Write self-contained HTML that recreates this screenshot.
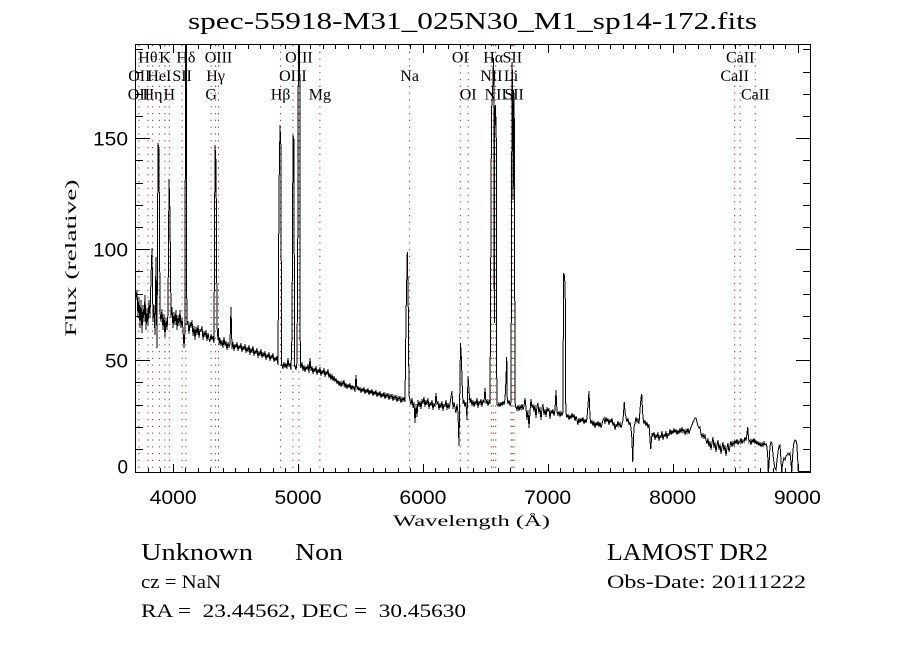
<!DOCTYPE html>
<html>
<head>
<meta charset="utf-8">
<style>
html,body{margin:0;padding:0;background:#fff;}
svg{display:block;}
text{fill:#000;}
.lab{font-family:"Liberation Serif",serif;font-size:16px;text-anchor:middle;}
.tk{font-family:"Liberation Sans",sans-serif;font-size:19px;}
.sf{font-family:"Liberation Serif",serif;}
</style>
</head>
<body>
<svg width="900" height="650" viewBox="0 0 900 650" xmlns="http://www.w3.org/2000/svg">
<rect x="0" y="0" width="900" height="650" fill="#fff"/>
<defs>
<clipPath id="pc"><rect x="136" y="44.5" width="674" height="428"/></clipPath>
</defs>

<!-- Title -->
<text class="sf" x="188" y="29" font-size="24" textLength="569" lengthAdjust="spacingAndGlyphs">spec-55918-M31_025N30_M1_sp14-172.fits</text>

<!-- dotted line markers -->
<g stroke="#9a2020" stroke-width="1" stroke-dasharray="1.2 5.6" fill="none">
<line x1="138.9" y1="45" x2="138.9" y2="472"/>
<line x1="147.9" y1="45" x2="147.9" y2="472"/>
<line x1="152.6" y1="45" x2="152.6" y2="472"/>
<line x1="159.3" y1="45" x2="159.3" y2="472"/>
<line x1="164.9" y1="45" x2="164.9" y2="472"/>
<line x1="169.3" y1="45" x2="169.3" y2="472"/>
<line x1="182.1" y1="45" x2="182.1" y2="472"/>
<line x1="185.9" y1="45" x2="185.9" y2="472"/>
<line x1="211.1" y1="45" x2="211.1" y2="472"/>
<line x1="215.6" y1="45" x2="215.6" y2="472"/>
<line x1="218.5" y1="45" x2="218.5" y2="472"/>
<line x1="280.6" y1="45" x2="280.6" y2="472"/>
<line x1="292.9" y1="45" x2="292.9" y2="472"/>
<line x1="298.9" y1="45" x2="298.9" y2="472"/>
<line x1="319.9" y1="45" x2="319.9" y2="472"/>
<line x1="409.6" y1="45" x2="409.6" y2="472"/>
<line x1="460.3" y1="45" x2="460.3" y2="472"/>
<line x1="468.2" y1="45" x2="468.2" y2="472"/>
<line x1="491.3" y1="45" x2="491.3" y2="472"/>
<line x1="493.2" y1="45" x2="493.2" y2="472"/>
<line x1="495.7" y1="45" x2="495.7" y2="472"/>
<line x1="511.1" y1="45" x2="511.1" y2="472"/>
<line x1="512.3" y1="45" x2="512.3" y2="472"/>
<line x1="514.1" y1="45" x2="514.1" y2="472"/>
<line x1="734.7" y1="45" x2="734.7" y2="472"/>
<line x1="740.2" y1="45" x2="740.2" y2="472"/>
<line x1="755.2" y1="45" x2="755.2" y2="472"/>
</g>

<!-- line labels -->
<text class="lab" x="147.9" y="62.5">Hθ</text>
<text class="lab" x="164.9" y="62.5">K</text>
<text class="lab" x="185.9" y="62.5">Hδ</text>
<text class="lab" x="218.5" y="62.5">OIII</text>
<text class="lab" x="298.9" y="62.5">OIII</text>
<text class="lab" x="460.3" y="62.5">OI</text>
<text class="lab" x="493.2" y="62.5">Hα</text>
<text class="lab" x="512.3" y="62.5">SII</text>
<text class="lab" x="740.2" y="62.5">CaII</text>

<text class="lab" x="139.3" y="81">OII</text>
<text class="lab" x="159.3" y="81">HeI</text>
<text class="lab" x="182.1" y="81">SII</text>
<text class="lab" x="215.6" y="81">Hγ</text>
<text class="lab" x="292.9" y="81">OIII</text>
<text class="lab" x="409.6" y="81">Na</text>
<text class="lab" x="491.3" y="81">NII</text>
<text class="lab" x="511.1" y="81">Li</text>
<text class="lab" x="734.7" y="81">CaII</text>

<text class="lab" x="138.9" y="99.5">OII</text>
<text class="lab" x="152.6" y="99.5">Hη</text>
<text class="lab" x="169.3" y="99.5">H</text>
<text class="lab" x="211.1" y="99.5">G</text>
<text class="lab" x="280.6" y="99.5">Hβ</text>
<text class="lab" x="319.9" y="99.5">Mg</text>
<text class="lab" x="468.2" y="99.5">OI</text>
<text class="lab" x="495.7" y="99.5">NII</text>
<text class="lab" x="514.1" y="99.5">SII</text>
<text class="lab" x="755.2" y="99.5">CaII</text>

<!-- spectrum -->
<g clip-path="url(#pc)">
<polyline fill="none" stroke="#000" stroke-width="1" shape-rendering="crispEdges" points="
136,300 137,290 138,318 139,297 140,328 141,300 142,333 143,305 144,322 145,295 146,330 147,308 148,326 149,300 150,318 151,277 152,248 153,322 154,305 155,335 156,257 157,348 158,143 159,150 160,312
161,322 162,309 163,330 164,314 165,337 166,318 167,330 168,312 169,179 170,215 171,318 172,307 173,328 174,312 175,325 176,310 177,330 178,315 179,326 180,310 181,328 182,318 183,330 184,348 185,330 185.5,44 186.3,44 186.8,325
188,321 189,334 190,322 191,328 192,320 193,336 194,326 195,340 196,327 197,335 198,325 199,338 200,329 201,332 202,326 203,340 204,331 205,337 206,330 207,341 208,333 209,339 210,342 211,334 212,340 213,336 214,343 215,145 215.8,160 216.3,202 217,326 218,340 218.5,328 219,345
220,338 221,346 222,340 223,348 224,337 225,346 226,341 227,350 228,342 229,347 230,344 231,307 232,349 233,342 234,351 235,344 236,348 237,342 238,351 239,345 240,349 241,343 242,352 243,346 244,350 245,344 246,353 247,347 248,352 249,345 250,355 251,348 252,353 253,346 254,356 255,350 256,354 257,348 258,358 259,351 260,356 261,349 262,358 263,352 264,357 265,351 266,360 267,354 268,358 269,352 270,361 271,355 272,359 273,353 274,362 275,357 276,361 277,356 278,365
279,192 280,125 281,150 281.5,366
282,364 283,369 284,362 285,368 286,363 287,369 288,358 289,367 290,363 291,370 292,333 293,135 294,140 294.5,367 295,365 296,370 297,362 297.7,257 298.4,44 299.7,44 300.3,366
301,368 302,362 303,371 304,365 305,372 306,366 307,370 308,364 309,373 310,358 311,371 312,366 313,374 314,368 315,372 316,366 317,375 318,369 319,373 320,367 321,376 322,370 323,374 324,368 325,377 326,371 327,375 328,369 329,378 330,373 331,380 332,374 333,381 334,376 335,382
336,378 337,384 338,380 339,386 340,381 341,387 342,382 343,385 344,380 345,388 346,383 347,389 348,384 349,388 350,383 351,390 352,385 353,389 354,386 355,392 356,375 357,390 358,386 359,391 360,387 361,393 362,388 363,392 364,387 365,394 366,389 367,393 368,388 369,395 370,390 371,394 372,389 373,396 374,391 375,395 376,390 377,397 378,392 379,396 380,391 381,398 382,393 383,397 384,392 385,399 386,394 387,397 388,393 389,400 390,395 391,398 392,394 393,401 394,396 395,399 396,395 397,402 398,397 399,400 400,396 401,403 402,398 403,401 404,397 405,402 406,318 407.3,252 408.2,300 409,395
410,400 411,405 412,398 413,408 414,402 415,423 416,404 417,417 418,400 419,407 420,401 421,409 422,399 423,404 424,397 425,407 426,400 427,405 428,398 429,409 430,402 431,406 432,400 433,410 434,403 435,407 436,393 437,405 438,401 439,410 440,403 441,408 442,401 443,411 444,404 445,407 446,400 447,410 448,403 449,409 450,404 451,397 452,391 453,409 454,402 455,408 456,413 457,404 458,413 459,446 460.5,343 461.5,360 462,380 463,404 464,400 465,407 466,402 467,420 468,376 469,390 470,403
471,398 472,406 473,400 474,407 475,401 476,405 477,398 478,408 479,401 480,404 481,399 482,407 483,400 484,403 485,388 486,404 487,399 488,406 489,401 490,404
490.4,330 490.8,250 491.5,110 492.5,95 493.5,58 494,100 494.3,323 494.8,110 495.5,105 496.3,140 496.8,404
498,406 499,403 500,407 501,402 502,406 503,401 504,405 505,399 506,380 506.7,357 507.3,400 508,404 509,400 510,406 511,402
511.5,250 512,62 512.6,80 513.2,200 513.7,90 514.3,120 515,400 515.5,407
516,407 517,410 518,405 519,411 520,406 521,409 522,404 523,410 524,406 525,398 526,408 527,420 528,410 529,428 530,412 531,399 532,408 533,404 534,412 535,405 536,418 537,406 538,403 539,414 540,407 541,420 542,408 543,404 544,415 545,409 546,417 547,407 548,412 549,408 550,419 551,410 552,414 553,409 554,416 555,410 556,390 557,412 558,415 559,411 560,417 561,412 562,415 563,412
563.5,273 564.3,275 565.2,287 565.8,413
566,413 567,418 568,414 569,420 570,415 571,419 572,413 573,418 574,414 575,421 576,416 577,420 578,425 579,418 580,423 581,418 582,422 583,417 584,424 585,419 586,423 587,418 588,405 589,391 590,417 591,424 592,420 593,426 594,421 595,428 596,422 597,426 598,421 599,427 600,422 601,428 602,424 603,420 604,418 605,424 606,417 607,422 608,418 609,425 610,419 611,423 612,418 613,426 614,422 615,430 616,424 617,427 618,421 619,426 620,423 621,428 622,424 623,420 624.3,402 625,412 626,417 627,422 628,418 629,425 630,422 631,428 632,440 632.7,462 633.5,440 634,427 635,423 636,417 637,422 638,419 639,424 640,410 641,398 641.7,394 642.5,410 643,418 644,424 645,420 646,426 647,422 648,428 649,424 650,440 650.7,449 651.5,440 652,433
653,436 654,432 655,440 656,434 657,438 658,432 659,441 660,435 661,438 662,431 663,440 664,434 665,437 666,431 667,439 668,433 669,436 670,429 671,435 672,430 673,434 674,428 675,433 676,429 677,435 678,430 679,434 680,428 681,433 682,427 683,432 684,429 685,435 686,430 687,433 688,428 689,434 690,430 691,427 692,425 693,422 694,420 695,418 696,418 697,422 698,426 699,428 700,427 701,434 702,437 703,434 704,438 705,435 706,440
707,444 708,438 709,447 710,441 711,450 712,443 713,437 714,448 715,442 716,452 717,445 718,440 719,450 720,444 721,454 722,447 723,442 724,451 725,445 726,456 727,448 728,443 729,452 730,446 731,441 732,447 733,442 734,445 735,440 736,444 737,439 738,445 739,441 740,443 741,438 742,444 743,440 744,442 745,437 746,441 747,433 747.7,427 748.5,438 749,442 750,440 751,445 752,439 753,443 754,438 755,444 756,440 757,445 758,441 759,446 760,442 761,447 762,443 763,446 764,442 765,445 766,444 767,447
768,460 768.3,473 769,465 770,446 771,442 772,443 773,455 774,463 775,468 776,470 777,460 778,452 779,446 780,445 781,460 781.7,473 782,468 783,462 784,458 785,460 786,456 787,455 788,453 789,455 790,453 791,462 791.7,473 792,466 793,450 794,442 795,440 796,441 796.7,443 797.5,455 798.3,471.7 810,471.7"/>
</g>

<!-- axes box -->
<rect x="135.5" y="44.5" width="675" height="428" fill="none" stroke="#000" stroke-width="1"/>

<!-- x ticks -->
<g stroke="#000" stroke-width="1" fill="none">
<path d="
M148.5,472V468 M160.5,472V468 M173.5,472V464 M185.5,472V468 M198.5,472V468 M210.5,472V468 M223.5,472V468 M235.5,472V468 M248.5,472V468 M260.5,472V468 M273.5,472V468 M285.5,472V468
M298.5,472V464 M310.5,472V468 M323.5,472V468 M335.5,472V468 M348.5,472V468 M360.5,472V468 M373.5,472V468 M385.5,472V468 M398.5,472V468 M410.5,472V468
M423.5,472V464 M435.5,472V468 M448.5,472V468 M460.5,472V468 M473.5,472V468 M485.5,472V468 M498.5,472V468 M510.5,472V468 M523.5,472V468 M535.5,472V468
M548.5,472V464 M560.5,472V468 M573.5,472V468 M585.5,472V468 M598.5,472V468 M610.5,472V468 M623.5,472V468 M635.5,472V468 M648.5,472V468 M660.5,472V468
M673.5,472V464 M685.5,472V468 M698.5,472V468 M710.5,472V468 M723.5,472V468 M735.5,472V468 M748.5,472V468 M760.5,472V468 M773.5,472V468 M785.5,472V468
M798.5,472V464
M148.5,45V49 M160.5,45V49 M173.5,45V53 M185.5,45V49 M198.5,45V49 M210.5,45V49 M223.5,45V49 M235.5,45V49 M248.5,45V49 M260.5,45V49 M273.5,45V49 M285.5,45V49
M298.5,45V53 M310.5,45V49 M323.5,45V49 M335.5,45V49 M348.5,45V49 M360.5,45V49 M373.5,45V49 M385.5,45V49 M398.5,45V49 M410.5,45V49
M423.5,45V53 M435.5,45V49 M448.5,45V49 M460.5,45V49 M473.5,45V49 M485.5,45V49 M498.5,45V49 M510.5,45V49 M523.5,45V49 M535.5,45V49
M548.5,45V53 M560.5,45V49 M573.5,45V49 M585.5,45V49 M598.5,45V49 M610.5,45V49 M623.5,45V49 M635.5,45V49 M648.5,45V49 M660.5,45V49
M673.5,45V53 M685.5,45V49 M698.5,45V49 M710.5,45V49 M723.5,45V49 M735.5,45V49 M748.5,45V49 M760.5,45V49 M773.5,45V49 M785.5,45V49
M798.5,45V53"/>
<!-- y ticks -->
<path d="
M136,449.5H143 M136,427.5H143 M136,405.5H143 M136,382.5H143 M136,360.5H150 M136,338.5H143 M136,316.5H143 M136,294.5H143 M136,271.5H143 M136,249.5H150
M136,227.5H143 M136,205.5H143 M136,183.5H143 M136,160.5H143 M136,138.5H150 M136,116.5H143 M136,94.5H143 M136,72.5H143 M136,49.5H143
M810,449.5H803 M810,427.5H803 M810,405.5H803 M810,382.5H803 M810,360.5H796 M810,338.5H803 M810,316.5H803 M810,294.5H803 M810,271.5H803 M810,249.5H796
M810,227.5H803 M810,205.5H803 M810,183.5H803 M810,160.5H803 M810,138.5H796 M810,116.5H803 M810,94.5H803 M810,72.5H803 M810,49.5H803"/>
</g>

<!-- tick labels -->
<g class="tk" text-anchor="middle">
<text x="173.2" y="504" textLength="47" lengthAdjust="spacingAndGlyphs">4000</text>
<text x="298.0" y="504" textLength="47" lengthAdjust="spacingAndGlyphs">5000</text>
<text x="422.9" y="504" textLength="47" lengthAdjust="spacingAndGlyphs">6000</text>
<text x="547.7" y="504" textLength="47" lengthAdjust="spacingAndGlyphs">7000</text>
<text x="672.6" y="504" textLength="47" lengthAdjust="spacingAndGlyphs">8000</text>
<text x="797.4" y="504" textLength="47" lengthAdjust="spacingAndGlyphs">9000</text>
</g>
<g class="tk" text-anchor="end">
<text x="128" y="145.5" textLength="35" lengthAdjust="spacingAndGlyphs">150</text>
<text x="128" y="256.5" textLength="35" lengthAdjust="spacingAndGlyphs">100</text>
<text x="128" y="367.5" textLength="23" lengthAdjust="spacingAndGlyphs">50</text>
<text x="128" y="473.5" textLength="10.5" lengthAdjust="spacingAndGlyphs">0</text>
</g>

<!-- axis titles -->
<text class="sf" x="393" y="526" font-size="16" textLength="157" lengthAdjust="spacingAndGlyphs">Wavelength (Å)</text>
<text class="sf" font-size="16" text-anchor="middle" transform="translate(76,258) rotate(-90)" textLength="157" lengthAdjust="spacingAndGlyphs">Flux (relative)</text>

<!-- bottom info -->
<text class="sf" x="141" y="560" font-size="24" textLength="112" lengthAdjust="spacingAndGlyphs">Unknown</text>
<text class="sf" x="295" y="560" font-size="24" textLength="48" lengthAdjust="spacingAndGlyphs">Non</text>
<text class="sf" x="141" y="588" font-size="19" textLength="80" lengthAdjust="spacingAndGlyphs" style="white-space:pre">cz = NaN</text>
<text class="sf" x="141" y="617" font-size="19" textLength="325" lengthAdjust="spacingAndGlyphs" style="white-space:pre">RA =  23.44562, DEC =  30.45630</text>
<text class="sf" x="607" y="560" font-size="24" textLength="161" lengthAdjust="spacingAndGlyphs">LAMOST DR2</text>
<text class="sf" x="607" y="588" font-size="19" textLength="199" lengthAdjust="spacingAndGlyphs">Obs-Date: 20111222</text>
</svg>
</body>
</html>
